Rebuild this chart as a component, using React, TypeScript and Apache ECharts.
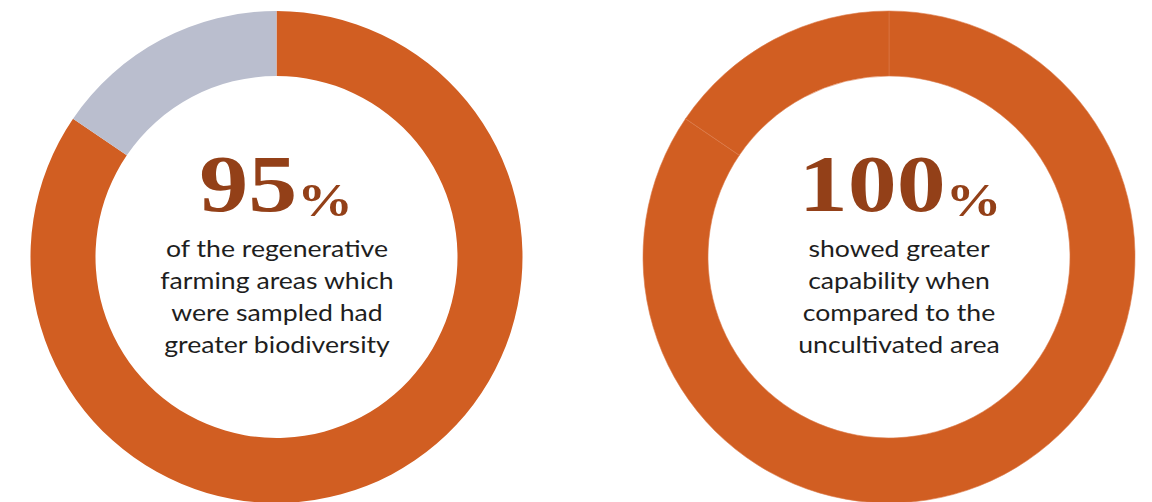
import React, { useEffect, useRef } from "react";
import * as echarts from "echarts";

const segmentNames = ["Higher", "Remaining"];
const leftValues = [84.5, 15.5];
const rightValues = [84.5, 15.5];
const leftColors = ["#D15E22", "#BABECE"];
const rightColors = ["#D15E22", "#D15E22"];
const leftHeadline = "95";
const rightHeadline = "100";
const leftLines = ["of the regenerative", "farming areas which", "were sampled had", "greater biodiversity"];
const rightLines = ["showed greater", "capability when", "compared to the", "uncultivated area"];

export default function App() {
  const ref = useRef<HTMLDivElement>(null);
  useEffect(() => {
    if (!ref.current) return;
    const chart = echarts.init(ref.current, null, { renderer: "svg" });
    const mkPie = (cx: number, values: number[], colors: string[], seam: boolean) => ({
      type: "pie",
      center: [cx, 257],
      radius: [181, 246],
      startAngle: 90,
      clockwise: true,
      silent: true,
      label: { show: false },
      labelLine: { show: false },
      emphasis: { disabled: true },
      itemStyle: seam ? { borderColor: "#DC7A4A", borderWidth: 0.6 } : { borderWidth: 0 },
      data: values.map((v, i) => ({ name: segmentNames[i], value: v, itemStyle: { color: colors[i] } })),
    });
    const headline = (x: number, num: string) => ({
      type: "text",
      x,
      y: 224,
      scaleX: 1.21,
      style: {
        text: `{n|${num}}{p|%}`,
        align: "center",
        verticalAlign: "bottom",
        rich: {
          n: { fontFamily: "Liberation Serif", fontWeight: "bold", fontSize: 81, fill: "#934018", verticalAlign: "bottom", lineHeight: 80 },
          p: { fontFamily: "Liberation Serif", fontWeight: "bold", fontSize: 46, fill: "#934018", verticalAlign: "bottom", lineHeight: 56 },
        },
      },
    });
    const body = (x: number, lines: string[]) => ({
      type: "text",
      x,
      y: 231,
      scaleX: 1.12,
      style: {
        text: lines.join("\n"),
        align: "center",
        verticalAlign: "top",
        fontFamily: "Lato",
        fontSize: 23.8,
        lineHeight: 32.3,
        fill: "#1E1E1E",
      },
    });
    chart.setOption({
      animation: false,
      backgroundColor: "#ffffff",
      series: [mkPie(276.5, leftValues, leftColors, false), mkPie(889, rightValues, rightColors, true)],
      graphic: [headline(276, leftHeadline), headline(900, rightHeadline), body(277, leftLines), body(899, rightLines)],
    });
    return () => chart.dispose();
  }, []);
  return <div ref={ref} style={{ position: "fixed", left: 0, top: 0, width: 1152, height: 502 }} />;
}
